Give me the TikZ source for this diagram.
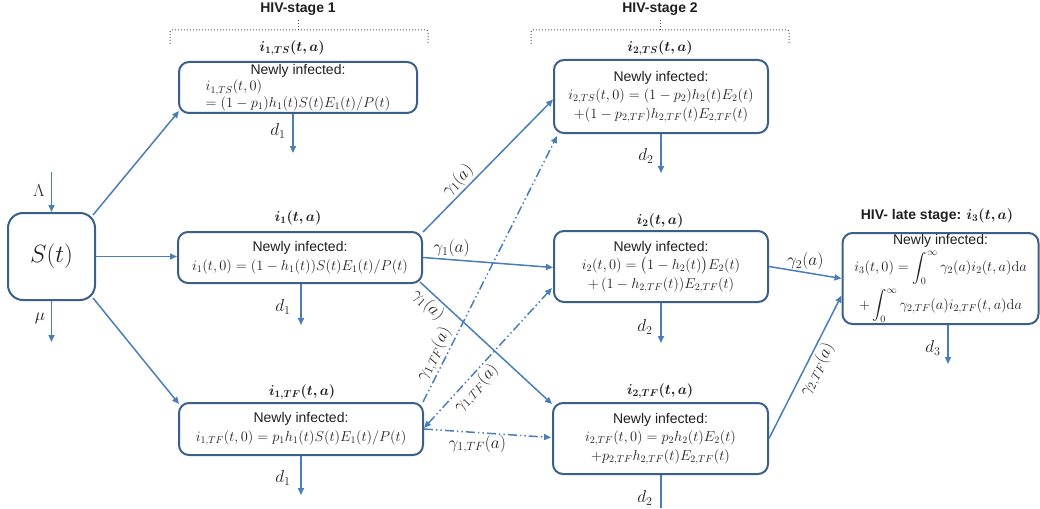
\documentclass[tikz,border=0pt]{standalone}
\usepackage{amsmath,bm}
\usepackage[no-math]{fontspec}
\setmainfont{Liberation Sans}
\usetikzlibrary{arrows.meta,calc}
\definecolor{lineblue}{HTML}{4A7EBB}
\definecolor{boxblue}{HTML}{3A5F8B}
\definecolor{txt}{HTML}{1F1F1F}
\begin{document}
\begin{tikzpicture}[x=1pt,y=-1pt,
  box/.style={draw=boxblue,line width=2pt,rounded corners=10pt,fill=white,inner sep=0pt,align=center,text=txt,font=\fontsize{14}{18.5}\selectfont},
  arr/.style={draw=lineblue,line width=1.5pt,-{Triangle[length=7pt,width=6pt]}},
  dd/.style={arr,dash pattern=on 9pt off 3pt on 1.5pt off 3pt on 1.5pt off 3pt},
  lbl/.style={text=txt,font=\fontsize{14}{16}\selectfont,inner sep=2pt},
  glbl/.style={text=txt,font=\fontsize{17.28}{19}\selectfont,inner sep=2pt},
  dlbl/.style={text=txt,font=\fontsize{17.28}{19}\selectfont,inner sep=0pt},
  ttl/.style={text=txt,font=\fontsize{14}{16}\selectfont\bfseries,inner sep=0pt},
  brk/.style={draw=txt!75,line width=1pt,dotted}
]
\useasboundingbox (0,0) rectangle (1040,508);

% titles and brackets
\node[ttl] (T1) at (298,9) {HIV-stage 1};
\node[ttl] (T2) at (660,9) {HIV-stage 2};
\draw[brk,rounded corners=2pt] (170,44) |- (298,30) -| (428,44);
\draw[brk] (298,30) -- (298,19);
\draw[brk,rounded corners=2pt] (531,44) |- (660,30) -| (789,44);
\draw[brk] (660,30) -- (660,19);

% susceptible
\node[box,rounded corners=15pt,minimum width=87pt,minimum height=87pt,font=\fontsize{31}{34}\selectfont] (S) at (51.5,256.5) {$S(t)$};

% boxes
\node[box,minimum width=238pt,minimum height=51pt] (TS1) at (298,87.5)
  {\fontsize{14}{16.8}\selectfont\renewcommand\arraystretch{1}\begin{tabular}{@{}l@{}}\multicolumn{1}{@{}c@{}}{Newly infected:}\\ $i_{1,TS}(t,0)$\\ $=(1-p_1)h_1(t)S(t)E_1(t)/P(t)$\end{tabular}};
\node[box,minimum width=244pt,minimum height=51pt] (I1) at (300,257.5)
  {Newly infected:\\ $i_1(t,0)=(1-h_1(t))S(t)E_1(t)/P(t)$};
\node[box,minimum width=244pt,minimum height=52pt] (TF1) at (301,429)
  {Newly infected:\\ $i_{1,TF}(t,0)=p_1h_1(t)S(t)E_1(t)/P(t)$};
\node[box,minimum width=214pt,minimum height=73pt] (TS2) at (661,96.5)
  {Newly infected:\\ $i_{2,TS}(t,0)=(1-p_2)h_2(t)E_2(t)$\\ $+(1-p_{2,TF})h_{2,TF}(t)E_{2,TF}(t)$};
\node[box,minimum width=214pt,minimum height=71pt] (I2) at (661,266.5)
  {Newly infected:\\ $i_2(t,0)=\bigl(1-h_2(t)\bigr)E_2(t)$\\ $+\,(1-h_{2,TF}(t))E_{2,TF}(t)$};
\node[box,minimum width=215pt,minimum height=71pt] (TF2) at (660.5,438.5)
  {Newly infected:\\ $i_{2,TF}(t,0)=p_2h_2(t)E_2(t)$\\ $+p_{2,TF}h_{2,TF}(t)E_{2,TF}(t)$};
\node[box,minimum width=196pt,minimum height=91pt] (I3) at (940.5,278.5)
  {Newly infected:\\[3pt] $\displaystyle i_3(t,0)=\int_0^\infty\gamma_2(a)i_2(t,a)\mathrm{d}a$\\[4pt] $\displaystyle +\int_0^\infty\gamma_{2,TF}(a)i_{2,TF}(t,a)\mathrm{d}a$};

% labels above boxes
\node[lbl] (LTS1) at (292,48) {$\bm{i_{1,TS}(t,a)}$};
\node[lbl] (LI1) at (298,218) {$\bm{i_1(t,a)}$};
\node[lbl] (LTF1) at (302,392) {$\bm{i_{1,TF}(t,a)}$};
\node[lbl] (LTS2) at (660,48) {$\bm{i_{2,TS}(t,a)}$};
\node[lbl] (LI2) at (660,221) {$\bm{i_2(t,a)}$};
\node[lbl] (LTF2) at (660,391) {$\bm{i_{2,TF}(t,a)}$};
\node[ttl] (LI3) at (937,216) {HIV- late stage: $\bm{i_3(t,a)}$};

% inflow / outflow of S
\coordinate (Lin) at (51.5,172);
\coordinate (Mout) at (51.5,342);
\draw[arr] (Lin) -- (S.north);
\draw[arr] (S.south) -- (Mout);
\node[dlbl] (Lam) at (39,191) {$\Lambda$};
\node[dlbl] (Mu) at (40,318) {$\mu$};

% S to stage 1
\draw[arr] ($(S.north east)+(-3,3)$) -- ($(TS1.south west)+(1,-3)$);
\draw[arr] (S.east) -- (S.east -| I1.west);
\draw[arr] ($(S.south east)+(-3,-3)$) -- ($(TF1.north west)+(1,2)$);

% stage 1 to stage 2
\draw[arr] ($(I1.north east)+(0,1)$) -- node[glbl,pos=0.33,sloped,above] {$\gamma_1(a)$} ($(TS2.west)+(0,3)$);
\draw[arr] (I1.east) -- node[glbl,pos=0.22,above] {$\gamma_1(a)$} ($(I2.west)+(0,1)$);
\draw[arr] ($(I1.south east)+(-3,-2)$) -- node[glbl,pos=0.12,sloped,below] {$\gamma_1(a)$} ($(TF2.north west)+(0,2)$);
\draw[dd] ($(TF1.north east)+(-1,0)$) -- node[glbl,pos=0.16,sloped,above] {$\gamma_{1,TF}(a)$} ($(TS2.south west)+(4,2)$);
\draw[dd,{Triangle[length=7pt,width=6pt]}-{Triangle[length=7pt,width=6pt]}] ($(TF1.east)+(0,-1)$) -- node[glbl,pos=0.34,sloped,below] {$\gamma_{1,TF}(a)$} ($(I2.south west)+(-1,-15)$);
\draw[dd] (TF1.east) -- node[glbl,pos=0.42,below] {$\gamma_{1,TF}(a)$} ($(TF2.west)+(-1,-1)$);

% stage 2 to late stage
\draw[arr] (I2.east) -- node[glbl,pos=0.5,above] {$\gamma_2(a)$} (I3.west);
\draw[arr] (TF2.east) -- node[glbl,pos=0.52,sloped,below] {$\gamma_{2,TF}(a)$} ($(I3.west)+(0,17)$);

% death outflows
\coordinate (dA) at (293,153);
\coordinate (dB) at (301,325);
\coordinate (dC) at (301,495);
\coordinate (dD) at (661,173);
\coordinate (dE) at (661,343);
\coordinate (dF) at (661,508);
\coordinate (dG) at (948,364);
\draw[arr] (dA |- TS1.south) -- (dA);
\draw[arr] (dB |- I1.south) -- (dB);
\draw[arr] (dC |- TF1.south) -- (dC);
\draw[arr] (dD |- TS2.south) -- (dD);
\draw[arr] (dE |- I2.south) -- (dE);
\draw[draw=lineblue,line width=1.5pt] (dF |- TF2.south) -- (dF);
\draw[arr] (dG |- I3.south) -- (dG);
\node[dlbl] (nA) at (278,131) {$d_1$};
\node[dlbl] (nB) at (283,307) {$d_1$};
\node[dlbl] (nC) at (283,478) {$d_1$};
\node[dlbl] (nD) at (646,156) {$d_2$};
\node[dlbl] (nE) at (645,327) {$d_2$};
\node[dlbl] (nF) at (645,498) {$d_2$};
\node[dlbl] (nG) at (933,348) {$d_3$};
\end{tikzpicture}
\end{document}
